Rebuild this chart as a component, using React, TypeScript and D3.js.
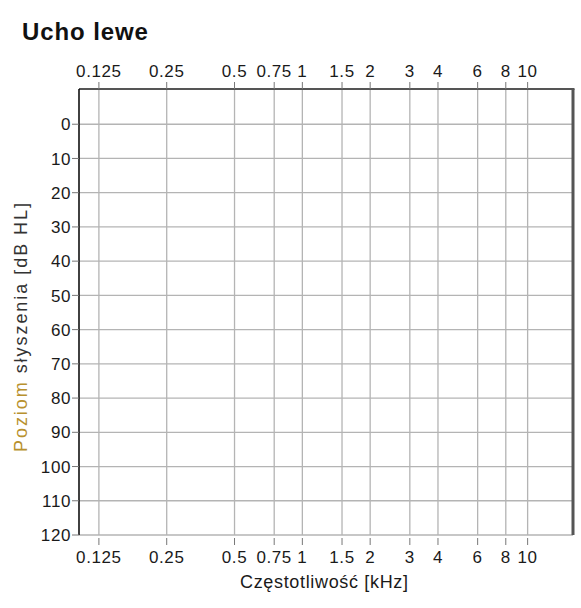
import React from "react";
import * as d3 from "d3";

const frequencies = [0.125, 0.25, 0.5, 0.75, 1, 1.5, 2, 3, 4, 6, 8, 10];
const freqLabels = ["0.125", "0.25", "0.5", "0.75", "1", "1.5", "2", "3", "4", "6", "8", "10"];
const dbTicks = [0, 10, 20, 30, 40, 50, 60, 70, 80, 90, 100, 110, 120];
const dbLabels = ["0", "10", "20", "30", "40", "50", "60", "70", "80", "90", "100", "110", "120"];
const title = "Ucho lewe";
const xTitle = "Częstotliwość [kHz]";
const yTitleA = "Poziom";
const yTitleB = " słyszenia [dB HL]";

const W = 581;
const H = 608;
const L = 79, R = 573, T = 89, B = 535;

export default function App() {
  const x = d3.scaleLog().domain([0.102, 15.9]).range([L, R]);
  const y = d3.scaleLinear().domain([-10, 120]).range([T + 1, B]);
  const font = "'Liberation Sans', Arial, sans-serif";
  const grid = "#b4b4b4";
  return (
    <svg width={W} height={H} style={{ position: "absolute", left: 0, top: 0, background: "#fff" }}>
      <rect x={0} y={0} width={W} height={H} fill="#fff" />
      <text x={22} y={40} fontFamily={font} fontWeight="bold" fontSize={24} fill="#111" letterSpacing={0.9}>
        {title}
      </text>
      {dbTicks.map((d) => (
        <line key={"h" + d} x1={L} x2={R} y1={y(d)} y2={y(d)} stroke={grid} strokeWidth={1.3} />
      ))}
      {frequencies.map((f) => (
        <line key={"v" + f} x1={x(f)} x2={x(f)} y1={T} y2={B} stroke={grid} strokeWidth={1.3} />
      ))}
      <line x1={L} x2={R + 1.5} y1={T} y2={T} stroke="#555" strokeWidth={2.2} />
      <line x1={R} x2={R} y1={T} y2={B} stroke="#555" strokeWidth={3} />
      <line x1={L} x2={L} y1={T} y2={B} stroke="#111" strokeWidth={1.6} />
      {dbTicks.map((d, i) => (
        <g key={"yt" + d}>
          <line x1={L - 7} x2={L} y1={y(d)} y2={y(d)} stroke="#777" strokeWidth={1} />
          <text x={L - 8} y={y(d)} dy="0.36em" textAnchor="end" fontFamily={font} fontSize={17} fill="#1a1a1a" letterSpacing={0.6}>
            {dbLabels[i]}
          </text>
        </g>
      ))}
      {frequencies.map((f, i) => (
        <g key={"tt" + f}>
          <line x1={x(f)} x2={x(f)} y1={T - 7} y2={T} stroke="#777" strokeWidth={1} />
          <text x={x(f)} y={77} textAnchor="middle" fontFamily={font} fontSize={17} fill="#1a1a1a" letterSpacing={0.6}>
            {freqLabels[i]}
          </text>
        </g>
      ))}
      {frequencies.map((f, i) => (
        <g key={"bt" + f}>
          <line x1={x(f)} x2={x(f)} y1={B + 3} y2={B + 10} stroke="#777" strokeWidth={1} />
          <text x={x(f)} y={563} textAnchor="middle" fontFamily={font} fontSize={17} fill="#1a1a1a" letterSpacing={0.6}>
            {freqLabels[i]}
          </text>
        </g>
      ))}
      <text x={240} y={588} fontFamily={font} fontSize={18} fill="#1a1a1a" textLength={168} lengthAdjust="spacing">
        {xTitle}
      </text>
      <text
        transform={`translate(27,452) rotate(-90)`}
        x={0}
        y={0}
        fontFamily={font}
        fontSize={18}
        textLength={249}
        lengthAdjust="spacing"
      >
        <tspan fill="#b8912f">{yTitleA}</tspan>
        <tspan fill="#333">{yTitleB}</tspan>
      </text>
    </svg>
  );
}
